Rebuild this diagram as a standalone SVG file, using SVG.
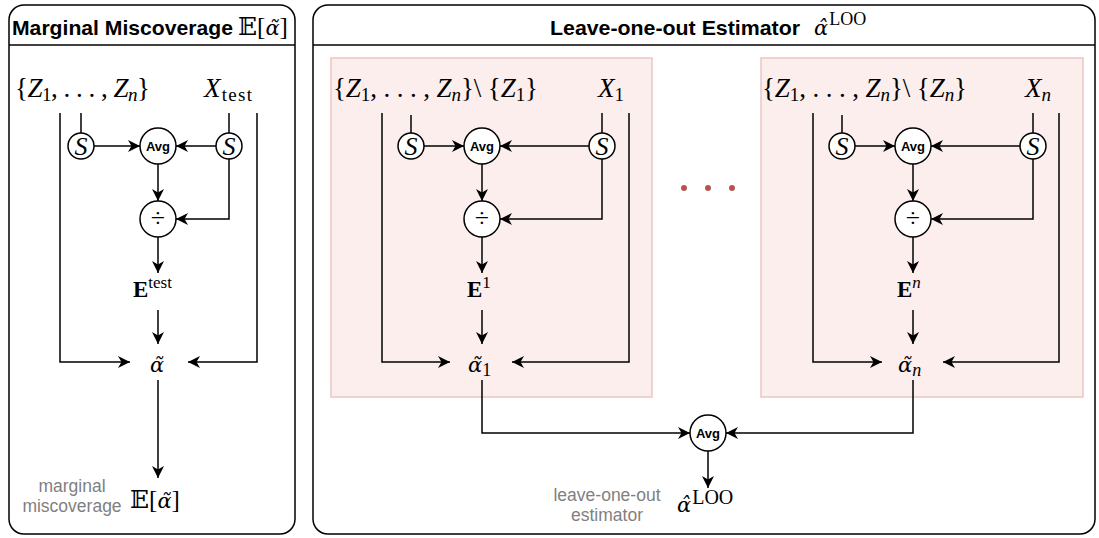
<svg xmlns="http://www.w3.org/2000/svg" width="1099" height="538" viewBox="0 0 1099 538">
<style>
.frame{fill:#ffffff;stroke:#000;stroke-width:1.5}
.pink{fill:#fbeeed;stroke:#ebc6c4;stroke-width:1.5}
.ln{fill:none;stroke:#000;stroke-width:1.5}
.arr{fill:none;stroke:#000;stroke-width:1.5;marker-end:url(#ah)}
.node{fill:#fff;stroke:#000;stroke-width:1.5}
.title{font-family:"Liberation Sans",Arial,sans-serif;font-weight:bold;font-size:21px;fill:#000}
.m{font-family:"Liberation Serif","DejaVu Serif",serif;font-size:27px;fill:#000}
.a{font-family:"Liberation Serif","DejaVu Serif",serif;font-size:25px;fill:#000}
.g{font-family:"DejaVu Serif",serif;font-style:italic;font-size:21px}
.sup{font-family:"Liberation Serif","DejaVu Serif",serif;font-size:18px}
.avg{font-family:"Liberation Sans",Arial,sans-serif;font-weight:bold;font-size:13px;fill:#000}
.note{font-family:"Liberation Sans",Arial,sans-serif;font-size:17.5px;fill:#7f7f7f}
.it{font-style:italic}
.s{font-family:"Liberation Serif","DejaVu Serif",serif;font-size:26px;font-style:italic;fill:#000}
.dv{font-family:"Liberation Serif","DejaVu Serif",serif;font-size:26px;fill:#000}
.e{font-family:"Liberation Serif","DejaVu Serif",serif;font-size:23px;fill:#000}
</style>
<defs>
<marker id="ah" markerUnits="userSpaceOnUse" markerWidth="13" markerHeight="12" refX="12" refY="6" orient="auto" viewBox="0 0 13 12">
<path d="M0,0 L12,6 L0,12 L3.5,6 z" fill="#000"/>
</marker>
</defs>

<g id="container-marginal">
<rect class="frame" x="9" y="5" width="286" height="529" rx="15"/>
<line class="ln" x1="9" y1="45" x2="295" y2="45"/>
<text class="title" x="12" y="35" textLength="221" lengthAdjust="spacingAndGlyphs">Marginal Miscoverage</text>
<text class="a" x="238" y="35" font-size="26">𝔼[<tspan class="g">α̃</tspan>]</text>
</g>

<g id="container-loo">
<rect class="frame" x="313" y="5" width="782" height="529" rx="15"/>
<line class="ln" x1="313" y1="45" x2="1095" y2="45"/>
<text class="title" x="550" y="35" textLength="250" lengthAdjust="spacingAndGlyphs">Leave-one-out Estimator</text>
<text class="a" x="814" y="35"><tspan class="g">α̂</tspan><tspan class="sup" dy="-10" dx="1">LOO</tspan></text>
</g>

<g id="box-1"><rect class="pink" x="331" y="58" width="321" height="339"/></g>
<g id="box-n"><rect class="pink" x="761" y="58" width="322" height="339"/></g>

<g id="dots" fill="#b85450">
<circle cx="684" cy="188" r="3"/><circle cx="708" cy="188" r="3"/><circle cx="732" cy="188" r="3"/>
</g>

<g id="connectors">
<path class="arr" d="M60,113 V362 H130"/>
<path class="arr" d="M257,113 V362 H188"/>
<path class="ln" d="M81,113 V133"/>
<path class="arr" d="M94,146 H140"/>
<path class="ln" d="M229,113 V133"/>
<path class="arr" d="M216,146 H176"/>
<path class="arr" d="M229,159 V219 H176"/>
<path class="arr" d="M158,164 V201"/>
<path class="arr" d="M158,237 V273"/>
<path class="arr" d="M158,310 V344"/>
<path class="arr" d="M158,380 V478"/>
<path class="arr" d="M382,113 V362 H450"/>
<path class="arr" d="M629,113 V362 H512"/>
<path class="ln" d="M411,115 V133"/>
<path class="arr" d="M424,146 H464"/>
<path class="ln" d="M602,113 V133"/>
<path class="arr" d="M589,146 H500"/>
<path class="arr" d="M602,159 V219 H500"/>
<path class="arr" d="M482,164 V201"/>
<path class="arr" d="M482,237 V273"/>
<path class="arr" d="M482,310 V344"/>
<path class="arr" d="M482,380 V433 H690"/>
<path class="arr" d="M813,113 V362 H882"/>
<path class="arr" d="M1059,113 V362 H943"/>
<path class="ln" d="M842,115 V133"/>
<path class="arr" d="M855,146 H895"/>
<path class="ln" d="M1033,113 V133"/>
<path class="arr" d="M1020,146 H931"/>
<path class="arr" d="M1033,159 V219 H931"/>
<path class="arr" d="M913,164 V201"/>
<path class="arr" d="M913,237 V273"/>
<path class="arr" d="M913,310 V344"/>
<path class="arr" d="M913,380 V433 H726"/>
<path class="arr" d="M708,451 V488"/>
</g>

<!-- left nodes -->
<g id="z-set-left"><text class="m" x="15" y="97" textLength="135" lengthAdjust="spacing">{<tspan class="it">Z</tspan><tspan font-size="19" dy="4">1</tspan><tspan dy="-4">, . . . , </tspan><tspan class="it">Z</tspan><tspan class="it" font-size="19" dy="4">n</tspan><tspan dy="-4">}</tspan></text></g>
<g id="x-test"><text class="m" x="204" y="97" textLength="48" lengthAdjust="spacing"><tspan class="it">X</tspan><tspan font-size="19" dy="4">test</tspan></text></g>
<g id="s-left-1"><circle class="node" cx="81" cy="146" r="13"/><text class="s" x="81" y="155" text-anchor="middle">S</text></g>
<g id="avg-left"><circle class="node" cx="158" cy="146" r="18"/><text class="avg" x="158" y="151" text-anchor="middle">Avg</text></g>
<g id="s-left-2"><circle class="node" cx="229" cy="146" r="13"/><text class="s" x="229" y="155" text-anchor="middle">S</text></g>
<g id="div-left"><circle class="node" cx="158" cy="219" r="18"/><text class="dv" x="158" y="227" text-anchor="middle">÷</text></g>
<g id="e-test"><text class="e" x="133" y="297"><tspan font-weight="bold">E</tspan><tspan font-size="17" dy="-9">test</tspan></text></g>
<g id="alpha-tilde"><text class="a" x="157" y="372" text-anchor="middle"><tspan class="g">α̃</tspan></text></g>
<g id="exp-alpha">
<text class="a" x="130" y="508" font-size="26">𝔼[<tspan class="g">α̃</tspan>]</text>
<text class="note" x="72" y="492" text-anchor="middle">marginal</text>
<text class="note" x="72" y="512" text-anchor="middle">miscoverage</text></g>

<!-- box 1 nodes -->
<g id="z-set-1"><text class="m" x="333" y="97" textLength="205" lengthAdjust="spacing">{<tspan class="it">Z</tspan><tspan font-size="19" dy="4">1</tspan><tspan dy="-4">, . . . , </tspan><tspan class="it">Z</tspan><tspan class="it" font-size="19" dy="4">n</tspan><tspan dy="-4">}\ {</tspan><tspan class="it">Z</tspan><tspan font-size="19" dy="4">1</tspan><tspan dy="-4">}</tspan></text></g>
<g id="x-1"><text class="m" x="598" y="97"><tspan class="it">X</tspan><tspan font-size="19" dy="4">1</tspan></text></g>
<g id="s-1a"><circle class="node" cx="411" cy="146" r="13"/><text class="s" x="411" y="155" text-anchor="middle">S</text></g>
<g id="avg-1"><circle class="node" cx="482" cy="146" r="18"/><text class="avg" x="482" y="151" text-anchor="middle">Avg</text></g>
<g id="s-1b"><circle class="node" cx="602" cy="146" r="13"/><text class="s" x="602" y="155" text-anchor="middle">S</text></g>
<g id="div-1"><circle class="node" cx="482" cy="219" r="18"/><text class="dv" x="482" y="227" text-anchor="middle">÷</text></g>
<g id="e-1"><text class="e" x="467" y="297"><tspan font-weight="bold">E</tspan><tspan font-size="17" dy="-9">1</tspan></text></g>
<g id="alpha-1"><text class="a" x="468" y="372"><tspan class="g">α̃</tspan><tspan font-size="18" dy="4">1</tspan></text></g>

<!-- box n nodes -->
<g id="z-set-n"><text class="m" x="762" y="97" textLength="205" lengthAdjust="spacing">{<tspan class="it">Z</tspan><tspan font-size="19" dy="4">1</tspan><tspan dy="-4">, . . . , </tspan><tspan class="it">Z</tspan><tspan class="it" font-size="19" dy="4">n</tspan><tspan dy="-4">}\ {</tspan><tspan class="it">Z</tspan><tspan class="it" font-size="19" dy="4">n</tspan><tspan dy="-4">}</tspan></text></g>
<g id="x-n"><text class="m" x="1025" y="97"><tspan class="it">X</tspan><tspan class="it" font-size="19" dy="4">n</tspan></text></g>
<g id="s-na"><circle class="node" cx="842" cy="146" r="13"/><text class="s" x="842" y="155" text-anchor="middle">S</text></g>
<g id="avg-n"><circle class="node" cx="913" cy="146" r="18"/><text class="avg" x="913" y="151" text-anchor="middle">Avg</text></g>
<g id="s-nb"><circle class="node" cx="1033" cy="146" r="13"/><text class="s" x="1033" y="155" text-anchor="middle">S</text></g>
<g id="div-n"><circle class="node" cx="913" cy="219" r="18"/><text class="dv" x="913" y="227" text-anchor="middle">÷</text></g>
<g id="e-n"><text class="e" x="897" y="297"><tspan font-weight="bold">E</tspan><tspan class="it" font-size="17" dy="-9">n</tspan></text></g>
<g id="alpha-n"><text class="a" x="898" y="372"><tspan class="g">α̃</tspan><tspan class="it" font-size="18" dy="4">n</tspan></text></g>

<!-- final -->
<g id="avg-final"><circle class="node" cx="708" cy="433" r="18"/><text class="avg" x="708" y="438" text-anchor="middle">Avg</text></g>
<g id="alpha-loo">
<text class="a" x="677" y="512"><tspan class="g">α̂</tspan><tspan class="sup" dy="-8" dx="1" style="font-size:20px">LOO</tspan></text>
<text class="note" x="607" y="501" text-anchor="middle">leave-one-out</text>
<text class="note" x="607" y="521" text-anchor="middle">estimator</text></g>
</svg>
